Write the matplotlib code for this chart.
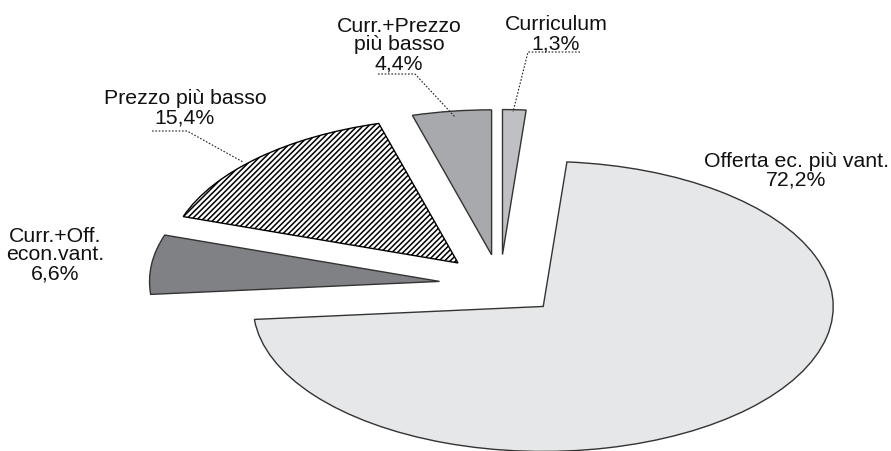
import matplotlib.pyplot as plt

plt.rcParams['font.family'] = ['Liberation Sans', 'DejaVu Sans']
plt.rcParams['hatch.linewidth'] = 1.1

# quote per criterio di aggiudicazione (%), in senso orario dalle ore 12
labels = ['Curriculum', 'Offerta ec. più vant.', 'Curr.+Off.\necon.vant.',
          'Prezzo più basso', 'Curr.+Prezzo\npiù basso']
shares = [1.3, 72.2, 6.6, 15.4, 4.4]
pct_text = ['1,3%', '72,2%', '6,6%', '15,4%', '4,4%']
colors = ['#bfc0c4', '#e6e7e8', '#808185', 'white', '#a8a9ac']
hatches = [None, None, None, '//////', None]

W, H = 891, 452
fig = plt.figure(figsize=(W / 100, H / 100), dpi=100)
ax = fig.add_axes([0, 0, 1, 1])

wedges, _ = ax.pie(shares, explode=[0.21] * len(shares), startangle=90,
                   counterclock=False, colors=colors,
                   wedgeprops=dict(edgecolor='#333333', linewidth=1.0))
for w, h in zip(wedges, hatches):
    if h:
        w.set_hatch(h)
        w.set_edgecolor('black')

# pie squashed into an ellipse: 290 px across, 145 px tall per unit radius
cx, cy, rx, ry = 500, 286, 290, 145
ax.set_aspect('auto')
ax.set_xlim(-cx / rx, (W - cx) / rx)
ax.set_ylim(-(H - cy) / ry, cy / ry)
ax.axis('off')

# label blocks (pixel centres)
label_pos = [(556, 34), (796, 171), (55, 255), (185, 108), (399, 45)]
for lab, pct, (px, py) in zip(labels, pct_text, label_pos):
    fig.text(px / W, 1 - py / H, lab + '\n' + pct, ha='center', va='center',
             fontsize=15.3, linespacing=1.0, color='#111111')

# dotted leader lines
leaders = [
    [(580, 53), (528, 53), (513, 113)],
    [(378, 75), (415, 75), (455, 118)],
    [(152, 132), (187, 132), (243, 163)],
]
for pts in leaders:
    xs = [p[0] / W for p in pts]
    ys = [1 - p[1] / H for p in pts]
    fig.add_artist(plt.Line2D(xs, ys, transform=fig.transFigure,
                              color='#222222', linewidth=0.8, linestyle=(0, (1.5, 1.5))))

fig.savefig('out.png', dpi=100)
